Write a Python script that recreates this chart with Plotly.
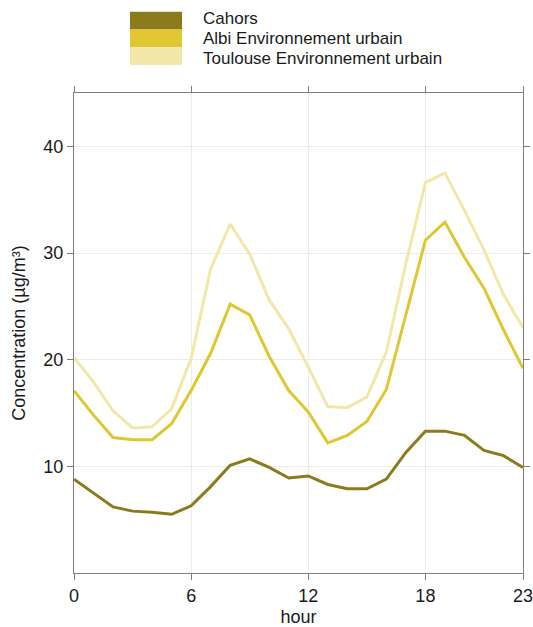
import plotly.graph_objects as go

hours = list(range(24))
cahors = [8.8, 7.5, 6.2, 5.8, 5.7, 5.5, 6.3, 8.1, 10.1, 10.7, 9.9, 8.9,
          9.1, 8.3, 7.9, 7.9, 8.8, 11.3, 13.3, 13.3, 12.9, 11.5, 11.0, 9.9]
albi = [17.1, 14.8, 12.7, 12.5, 12.5, 14.0, 17.1, 20.6, 25.2, 24.2, 20.3, 17.1,
        15.1, 12.2, 12.9, 14.2, 17.2, 24.2, 31.2, 32.9, 29.6, 26.7, 22.8, 19.2]
toulouse = [20.2, 17.9, 15.2, 13.6, 13.7, 15.4, 20.1, 28.5, 32.7, 29.9, 25.6, 22.9,
            19.3, 15.6, 15.5, 16.5, 20.7, 29.0, 36.6, 37.5, 34.0, 30.3, 26.1, 23.0]

series_names = ["Cahors", "Albi Environnement urbain", "Toulouse Environnement urbain"]
series_values = [cahors, albi, toulouse]
colors = ["#8b7b1c", "#e0c631", "#f3e7a8"]

x_ticks = [0, 6, 12, 18, 23]
y_ticks = [10, 20, 30, 40]

W, H = 533, 627
L, R, T, B = 74, 10, 93, 54
pw, ph = W - L - R, H - T - B

def px(x):
    return (x - L) / pw

def py(y):
    return (H - B - y) / ph

FONT = "Arial, Liberation Sans, sans-serif"

fig = go.Figure()
# draw in reverse so Cahors is on top
for name, vals, col in reversed(list(zip(series_names, series_values, colors))):
    fig.add_trace(go.Scatter(x=hours, y=vals, mode="lines", name=name,
                             line=dict(color=col, width=3), showlegend=False))

shapes = []
annotations = []
sw_top = 11.7
sw_h = 17.8
txt_mid, txt_gap = 38.5, 19.6
for i, (name, col) in enumerate(zip(series_names, colors)):
    y0 = sw_top + i * sw_h
    y1 = y0 + sw_h
    shapes.append(dict(type="rect", xref="paper", yref="paper",
                       x0=px(130), x1=px(182), y0=py(y1), y1=py(y0),
                       fillcolor=col, line=dict(width=0), layer="above"))
    annotations.append(dict(text=name, xref="paper", yref="paper",
                            x=px(201), y=py(txt_mid + (i - 1) * txt_gap), xanchor="left",
                            yanchor="middle", showarrow=False,
                            font=dict(family=FONT, size=17, color="#1a1a1a")))

axis_common = dict(showline=True, linecolor="#7f7f7f", linewidth=1, mirror="ticks",
                   ticks="outside", ticklen=6, tickcolor="#7f7f7f",
                   showgrid=True, gridcolor="#ececec", gridwidth=1, zeroline=False,
                   ticklabeloverflow="allow",
                   tickfont=dict(family=FONT, size=18, color="#1a1a1a"))

fig.update_layout(
    width=W, height=H,
    margin=dict(l=L, r=R, t=T, b=B, autoexpand=False),
    paper_bgcolor="white", plot_bgcolor="white",
    showlegend=False,
    shapes=shapes, annotations=annotations,
    xaxis=dict(range=[0, 23], tickvals=x_ticks, ticktext=[str(v) for v in x_ticks],
               title=dict(text="hour", font=dict(family=FONT, size=18, color="#1a1a1a"),
                          standoff=13),
               **axis_common),
    yaxis=dict(range=[0, 45], tickvals=y_ticks, ticktext=[str(v) for v in y_ticks],
               title=dict(text="Concentration (µg/m³)",
                          font=dict(family=FONT, size=18, color="#1a1a1a"), standoff=13),
               **axis_common),
)

fig.write_html("out.html", config={"displayModeBar": False},
               post_script="document.body.style.margin='0';document.body.style.overflow='hidden';")
